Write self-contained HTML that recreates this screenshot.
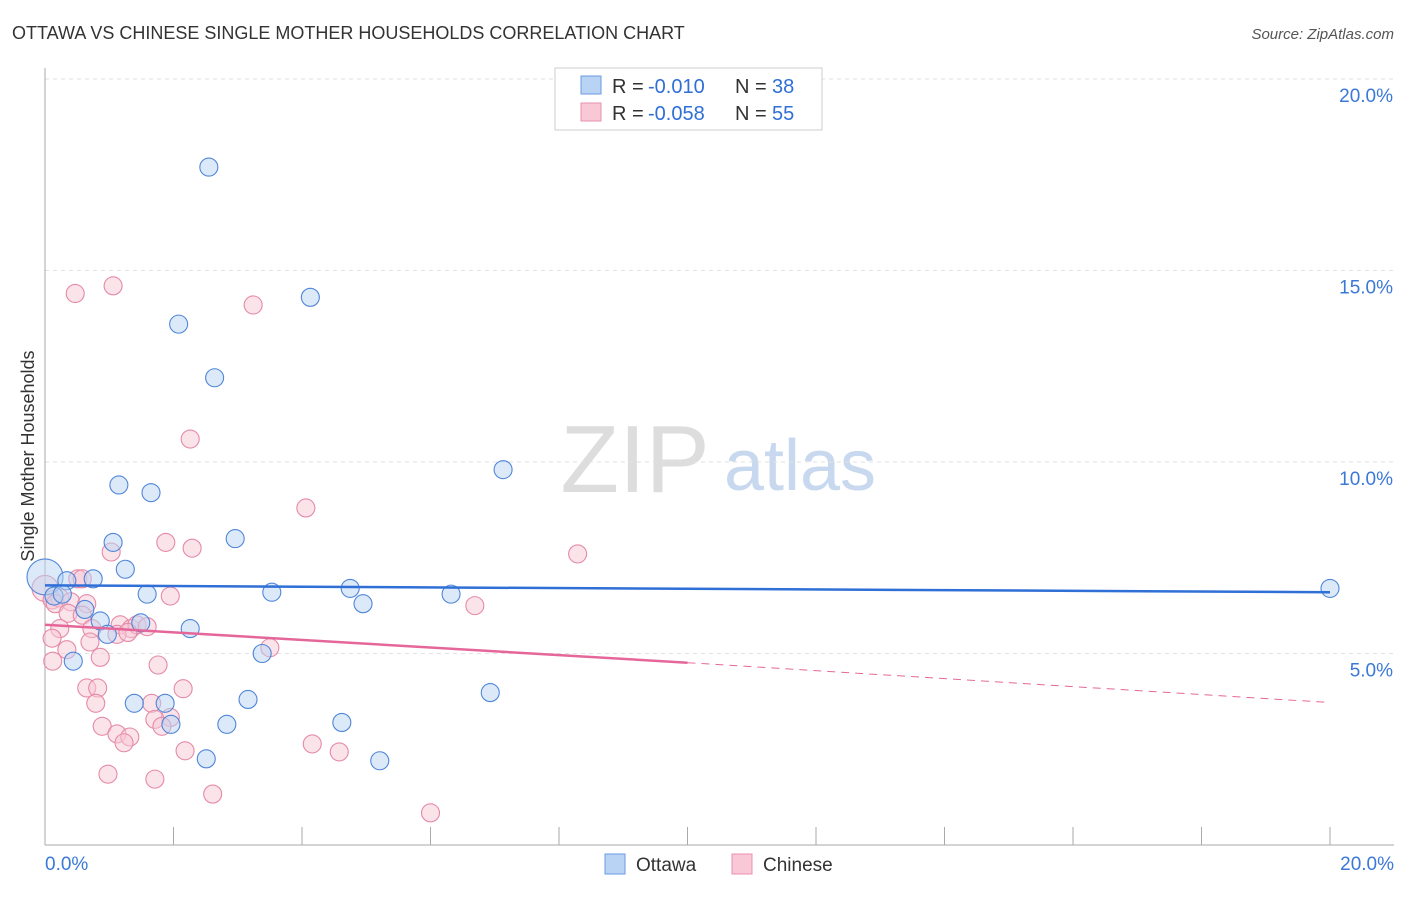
<!DOCTYPE html>
<html><head><meta charset="utf-8"><style>
body{margin:0;background:#fff;font-family:"Liberation Sans",sans-serif}
svg text{font-family:"Liberation Sans",sans-serif}
</style></head><body>
<svg id="c" width="1406" height="892" xmlns="http://www.w3.org/2000/svg">
<text x="12" y="39" font-size="18" fill="#333">OTTAWA VS CHINESE SINGLE MOTHER HOUSEHOLDS CORRELATION CHART</text>
<text x="1394" y="39" font-size="15" fill="#555" text-anchor="end" font-style="italic">Source: ZipAtlas.com</text>
<text x="34" y="456" font-size="18" fill="#333" text-anchor="middle" transform="rotate(-90 34 456)">Single Mother Households</text>
<text x="635" y="492" font-size="96" fill="#ddd" font-family="Liberation Serif" text-anchor="middle">ZIP</text>
<text x="800" y="490" font-size="72" fill="#c8d8ee" text-anchor="middle">atlas</text>
<g id="grid"></g><g id="pts"></g><g id="trend"></g>
<g>
<rect x="555" y="68" width="267" height="62" fill="#fff" stroke="#ccc"/>
<rect x="581" y="76" width="20" height="18" fill="#b8d3f4" stroke="#6a9be0"/>
<text x="612" y="93" font-size="20" fill="#333">R =</text>
<text x="648" y="93" font-size="20" fill="#2f6fd6">-0.010</text>
<text x="735" y="93" font-size="20" fill="#333">N =</text>
<text x="772" y="93" font-size="20" fill="#2f6fd6">38</text>
<rect x="581" y="103" width="20" height="18" fill="#f8c8d6" stroke="#e890ac"/>
<text x="612" y="120" font-size="20" fill="#333">R =</text>
<text x="648" y="120" font-size="20" fill="#2f6fd6">-0.058</text>
<text x="735" y="120" font-size="20" fill="#333">N =</text>
<text x="772" y="120" font-size="20" fill="#2f6fd6">55</text>
</g>
<g>
<rect x="605" y="854" width="20" height="20" fill="#b8d3f4" stroke="#6a9be0"/>
<text x="636" y="871" font-size="19" fill="#333">Ottawa</text>
<rect x="732" y="854" width="20" height="20" fill="#f8c8d6" stroke="#e890ac"/>
<text x="763" y="871" font-size="19" fill="#333">Chinese</text>
</g>
</svg>
<script>
const ottawaX=[2.55,4.13,2.08,2.64,7.13,1.15,1.65,2.96,1.06,1.25,0,0.34,0.75,4.75,0.14,0.27,1.59,3.53,6.32,20,4.95,0.62,0.86,1.49,2.26,0.97,3.38,0.44,6.93,3.16,1.39,1.87,2.83,1.96,4.62,2.51,5.21];
const ottawaY=[17.7,14.3,13.6,12.2,9.8,9.4,9.2,8.0,7.9,7.2,7.0,6.9,6.95,6.7,6.5,6.55,6.55,6.6,6.55,6.7,6.3,6.15,5.85,5.8,5.65,5.5,5.0,4.8,3.98,3.8,3.7,3.7,3.15,3.15,3.2,2.25,2.2];
const chineseX=[0.47,1.06,3.24,2.26,4.06,8.29,1.88,2.29,1.03,0.51,0.58,0,0.11,0.23,0.16,0.40,0.65,1.95,6.69,0.36,0.58,1.17,1.34,1.43,1.59,0.23,0.73,1.12,1.29,0.70,0.11,3.50,0.34,0.86,0.12,1.76,0.65,0.82,2.15,0.79,1.66,1.95,1.71,1.82,0.89,1.12,1.32,1.23,4.16,4.58,2.18,0.98,1.71,2.61,6.0];
const chineseY=[14.4,14.6,14.1,10.6,8.8,7.6,7.9,7.75,7.65,6.95,6.95,6.7,6.4,6.45,6.3,6.35,6.3,6.5,6.25,6.05,6.0,5.75,5.65,5.75,5.7,5.65,5.65,5.5,5.55,5.3,5.4,5.15,5.1,4.9,4.8,4.7,4.1,4.1,4.08,3.7,3.7,3.33,3.28,3.1,3.1,2.9,2.82,2.67,2.64,2.43,2.46,1.85,1.72,1.33,0.84];
const yTicks=[5,10,15,20];
const xTickVals=[0,2,4,6,8,10,12,14,16,18,20];
const NS="http://www.w3.org/2000/svg";
const X0=45,X1=1330,Y0=845,PY=38.3;
const sx=v=>X0+(X1-X0)*v/20, sy=v=>Y0-v*PY;
function mk(t,a,p){const e=document.createElementNS(NS,t);for(const k in a)e.setAttribute(k,a[k]);p.appendChild(e);return e;}
const grid=document.getElementById('grid');
yTicks.forEach(v=>{
 const l=mk('line',{x1:X0,x2:1394,y1:sy(v),y2:sy(v),stroke:'#e2e2e2','stroke-dasharray':'4,4'},grid);
 
 
 const t=mk('text',{x:1393,y:sy(v)+23,'font-size':19,fill:'#3b78d8','text-anchor':'end'},grid);
 t.textContent=v.toFixed(1)+'%';
 
 
});
mk('line',{x1:X0,x2:X0,y1:68,y2:Y0,stroke:'#aaa'},grid);
mk('line',{x1:X0,x2:1394,y1:Y0,y2:Y0,stroke:'#aaa'},grid);
xTickVals.forEach(v=>{const l=mk('line',{x1:sx(v),x2:sx(v),y1:827,y2:Y0,stroke:'#aaa'},grid);
 
 });
[[0,'start',45],[20,'end',1394]].forEach(([v,a,x])=>{const t=mk('text',{x:x,y:870,'font-size':19,fill:'#3b78d8','text-anchor':a},grid);t.textContent=v.toFixed(1)+'%';
 
 });
const pts=document.getElementById('pts');
function draw(xs,ys,fill,stroke,name){xs.forEach((x,i)=>{const r=(x===0)?(name==='ottawa-point'?18:13):9;
 const c=mk('circle',{cx:sx(x),cy:sy(ys[i]),r:r,fill:fill,'fill-opacity':0.5,stroke:stroke,'stroke-width':1.1},pts);
 
 });}
draw(chineseX,chineseY,'#f8c8d6','#e58aa8','chinese-point');
draw(ottawaX,ottawaY,'#b8d3f4','#4f86d8','ottawa-point');
const tr=document.getElementById('trend');
function line(x1,y1,x2,y2,c,w,dash,name){const l=mk('line',{x1:sx(x1),y1:sy(y1),x2:sx(x2),y2:sy(y2),stroke:c,'stroke-width':w},tr);if(dash)l.setAttribute('stroke-dasharray',dash);
 
 }
line(0,6.78,20,6.6,'#2f6fd6',2.5,null,'ottawa-trend-line');
line(0,5.75,10,4.76,'#e5679a',2.5,null,'chinese-trend-line');
line(10,4.76,20,3.72,'#e5679a',1,'8,6','chinese-trend-extension');
</script>
</body></html>
